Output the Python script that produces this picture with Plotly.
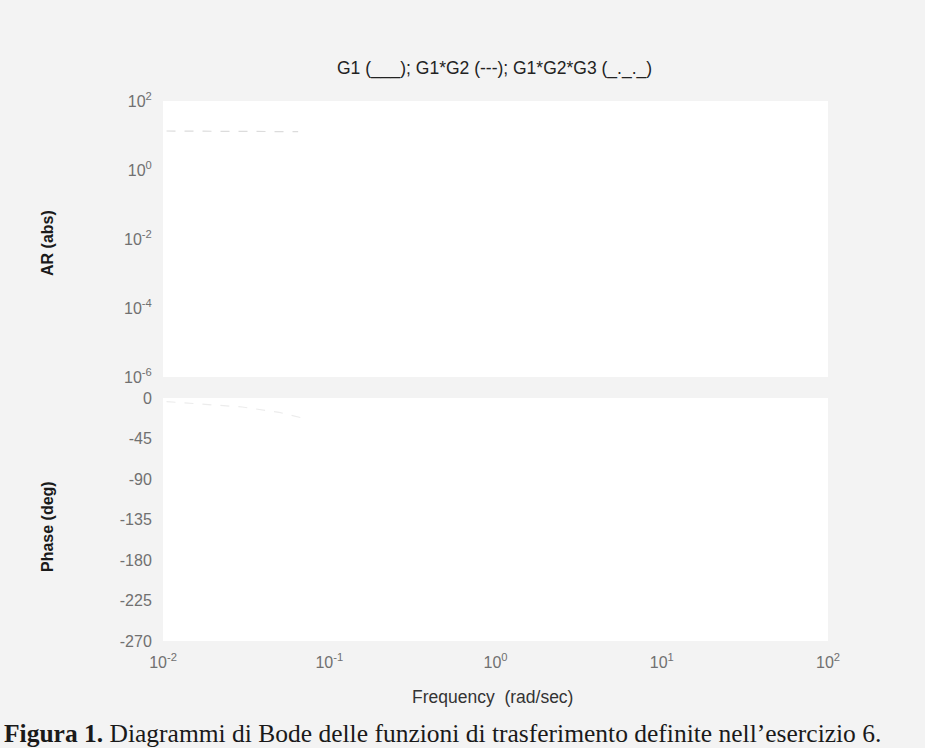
import plotly.graph_objects as go

# Frequency axis (rad/sec) and the decade tick labels
freq_ticks = [0.01, 0.1, 1, 10, 100]
freq_labels = ["10<sup>-2</sup>", "10<sup>-1</sup>", "10<sup>0</sup>", "10<sup>1</sup>", "10<sup>2</sup>"]

# Amplitude-ratio axis ticks
ar_ticks = [1e2, 1e0, 1e-2, 1e-4, 1e-6]
ar_labels = ["10<sup>2</sup>", "10<sup>0</sup>", "10<sup>-2</sup>", "10<sup>-4</sup>", "10<sup>-6</sup>"]

# Phase axis ticks (deg)
phase_ticks = [0, -45, -90, -135, -180, -225, -270]
phase_labels = ["0", "-45", "-90", "-135", "-180", "-225", "-270"]

# Low-frequency portion of the G1 response (faded print)
g1_freq = [0.0105, 0.02, 0.035, 0.05, 0.065]
g1_ar = [13.5, 13.4, 13.3, 13.1, 12.9]
g1_phase_freq = [0.0105, 0.03, 0.05, 0.068]
g1_phase = [-4, -10, -16, -22]

W, H = 925, 748
SANS = "Liberation Sans, Arial, sans-serif"

fig = go.Figure()

fig.add_trace(go.Scatter(
    x=g1_freq, y=g1_ar, mode="lines",
    line=dict(color="#dcdcdc", width=1.2, dash="dash"),
    xaxis="x", yaxis="y", showlegend=False, hoverinfo="skip"))

fig.add_trace(go.Scatter(
    x=g1_phase_freq, y=g1_phase, mode="lines",
    line=dict(color="#ececec", width=1.2, dash="dash"),
    xaxis="x2", yaxis="y2", showlegend=False, hoverinfo="skip"))

tick_font = dict(family=SANS, size=16, color="#707070")
hidden_tick = dict(ticks="outside", tickcolor="rgba(0,0,0,0)", tickwidth=1)

x_dom = [163 / W, 828 / W]

fig.update_layout(
    width=W, height=H,
    margin=dict(l=0, r=0, t=0, b=0),
    paper_bgcolor="#f3f3f3",
    plot_bgcolor="#ffffff",
    showlegend=False,
    xaxis=dict(
        type="log", domain=x_dom, range=[-2, 2],
        showgrid=False, zeroline=False, showline=False,
        showticklabels=False, ticks="", anchor="y", automargin=False),
    yaxis=dict(
        type="log", domain=[1 - 377 / H, 1 - 101 / H], range=[-6, 2],
        tickvals=ar_ticks, ticktext=ar_labels, ticklen=7, **hidden_tick,
        showgrid=False, zeroline=False, showline=False,
        tickfont=tick_font, anchor="x", automargin=False),
    xaxis2=dict(
        type="log", domain=x_dom, range=[-2, 2],
        tickvals=freq_ticks, ticktext=freq_labels, ticklen=7, **hidden_tick,
        showgrid=False, zeroline=False, showline=False,
        tickfont=tick_font, anchor="y2", automargin=False),
    yaxis2=dict(
        domain=[1 - 641 / H, 1 - 398 / H], range=[-270, 0],
        tickvals=phase_ticks, ticktext=phase_labels, ticklen=7, **hidden_tick,
        showgrid=False, zeroline=False, showline=False,
        tickfont=tick_font, anchor="x2", automargin=False),
    annotations=[
        dict(text="G1 (___); G1*G2 (---); G1*G2*G3 (_._._)",
             x=494 / W, y=1 - 68 / H, xref="paper", yref="paper",
             xanchor="center", yanchor="middle", showarrow=False,
             font=dict(family=SANS, size=17.5, color="#222222")),
        dict(text="<b>AR (abs)</b>", textangle=-90,
             x=47 / W, y=1 - 243 / H, xref="paper", yref="paper",
             xanchor="center", yanchor="middle", showarrow=False,
             font=dict(family=SANS, size=16, color="#1a1a1a")),
        dict(text="<b>Phase (deg)</b>", textangle=-90,
             x=47 / W, y=1 - 527 / H, xref="paper", yref="paper",
             xanchor="center", yanchor="middle", showarrow=False,
             font=dict(family=SANS, size=16, color="#1a1a1a")),
        dict(text="Frequency  (rad/sec)",
             x=492 / W, y=1 - 697 / H, xref="paper", yref="paper",
             xanchor="center", yanchor="middle", showarrow=False,
             font=dict(family=SANS, size=17.5, color="#333333")),
        dict(text="<b>Figura 1.</b> Diagrammi di Bode delle funzioni di trasferimento definite nell\u2019esercizio 6.",
             x=2 / W, y=1 - 733 / H, xref="paper", yref="paper",
             xanchor="left", yanchor="middle", showarrow=False,
             font=dict(family="Liberation Serif, Times New Roman, serif", size=25.5, color="#1a1a1a")),
    ],
)

fig.write_html("out.html")
